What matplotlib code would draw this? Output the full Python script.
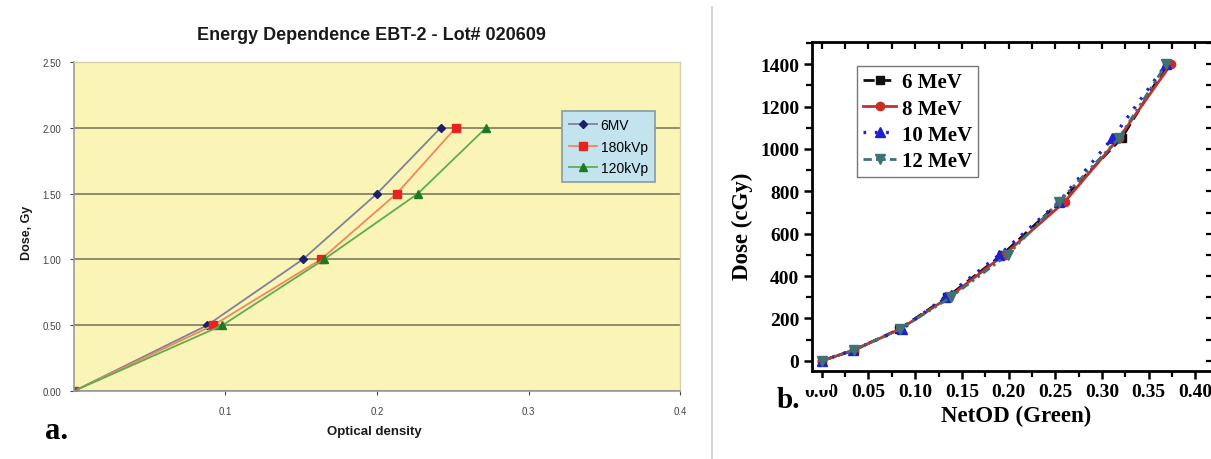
import numpy as np
import matplotlib
matplotlib.use("Agg")
import matplotlib.pyplot as plt
from matplotlib.patches import Rectangle
from matplotlib.lines import Line2D
from matplotlib.ticker import MultipleLocator

# ---- panel a: EBT-2 energy dependence (Excel style) ----
dose_a = [0.0, 0.5, 1.0, 1.5, 2.0]
od_6mv = [0.0, 0.088, 0.151, 0.200, 0.242]
od_180kvp = [0.0, 0.092, 0.163, 0.213, 0.252]
od_120kvp = [0.0, 0.098, 0.165, 0.227, 0.272]
labels_a = ["6MV", "180kVp", "120kVp"]

# ---- panel b: NetOD (green channel) for electron beams ----
dose_b = [0, 50, 150, 300, 500, 750, 1050, 1400]
netod_6mev = [0.0, 0.034, 0.083, 0.134, 0.193, 0.255, 0.321, 0.370]
netod_8mev = [0.0, 0.034, 0.084, 0.136, 0.195, 0.260, 0.318, 0.374]
netod_10mev = [0.0, 0.033, 0.086, 0.132, 0.190, 0.254, 0.311, 0.369]
netod_12mev = [0.0, 0.034, 0.084, 0.138, 0.199, 0.254, 0.318, 0.369]
labels_b = ["6 MeV", "8 MeV", "10 MeV", "12 MeV"]

W, H = 1211, 460
fig = plt.figure(figsize=(W / 100, H / 100), dpi=100)

def box(l, t, r, b):
    return [l / W, 1 - b / H, (r - l) / W, (b - t) / H]

sans = "Liberation Sans"
serif = "Liberation Serif"

# panel a
ax = fig.add_axes(box(74, 63, 680, 392))
ax.set_facecolor("#faf5b6")
ax.plot(od_6mv, dose_a, color="#80819a", lw=1.3, marker="D", ms=4.5,
        mfc="#1c1f6e", mec="#1c1f6e", label=labels_a[0])
ax.plot(od_180kvp, dose_a, color="#f2865e", lw=1.3, marker="s", ms=5.5,
        mfc="#e8231e", mec="#e8231e", label=labels_a[1])
ax.plot(od_120kvp, dose_a, color="#5cae4c", lw=1.3, marker="^", ms=5.5,
        mfc="#1d7a22", mec="#1d7a22", label=labels_a[2])
ax.set_xlim(0, 0.4)
ax.set_ylim(0, 2.5)
ax.set_xticks([0.1, 0.2, 0.3, 0.4])
ax.set_xticklabels(["0.1", "0.2", "0.3", "0.4"])
ax.set_yticks(np.arange(0, 2.51, 0.5))
ax.set_yticklabels(["%.2f" % v for v in np.arange(0, 2.51, 0.5)])
ax.yaxis.grid(True, color="#8e8c6e", lw=1.4)
ax.set_axisbelow(True)
for s in ["left", "bottom"]:
    ax.spines[s].set_color("#9a9a9a")
    ax.spines[s].set_linewidth(1.2)
for s in ["top", "right"]:
    ax.spines[s].set_color("#d4d0b0")
    ax.spines[s].set_linewidth(1.0)
ax.tick_params(labelsize=7, colors="#444444", length=3, width=0.8,
               pad=8)
for t in ax.get_xticklabels() + ax.get_yticklabels():
    t.set_family(sans)
ax.tick_params(axis="y", pad=6)
leg = ax.legend(loc="upper left", bbox_to_anchor=(0.805, 0.851),
                borderaxespad=0, fancybox=False, facecolor="#c3e3ef",
                edgecolor="#8a9aa0", framealpha=1, handlelength=2.0,
                handletextpad=0.3, labelspacing=0.55, borderpad=0.5,
                prop={"family": sans, "size": 10})
leg.get_frame().set_linewidth(1.2)

fig.text(371 / W, 1 - 36 / H, "Energy Dependence EBT-2 - Lot# 020609",
         family=sans, weight="bold", size=13, ha="center", va="center",
         color="#1a1a1a")
fig.text(27 / W, 1 - 233 / H, "Dose, Gy", family=sans, weight="bold",
         size=9, rotation=90, ha="center", va="center", color="#1a1a1a")
fig.text(374 / W, 1 - 432 / H, "Optical density", family=sans,
         weight="bold", size=9.5, ha="center", va="center", color="#1a1a1a")
fig.text(45 / W, 1 - 432 / H, "a.", family=serif, weight="bold", size=22,
         ha="left", va="center")

# divider between the two panels
fig.add_artist(Line2D([712.5 / W, 712.5 / W], [0, 1 - 8 / H],
                      color="#d6d6d6", lw=1.5))

# panel b
bx = fig.add_axes(box(812, 43, 1213, 372))
bx.plot(netod_6mev, dose_b, color="#111111", lw=2, ls=(0, (4, 2)),
        marker="s", ms=6, label=labels_b[0])
bx.plot(netod_8mev, dose_b, color="#c62d2b", lw=2, ls="-",
        marker="o", ms=6, label=labels_b[1])
bx.plot(netod_10mev, dose_b, color="#1f1fcf", lw=2.4, ls=(0, (0.8, 2.6)),
        marker="^", ms=7, label=labels_b[2])
bx.plot(netod_12mev, dose_b, color="#3f7272", lw=2, ls=(0, (3, 1.5, 1, 1.5, 1, 1.5)),
        marker="v", ms=7, label=labels_b[3])
bx.set_xlim(-0.0105, 0.419)
bx.set_ylim(-48, 1505)
bx.xaxis.set_major_locator(MultipleLocator(0.05))
bx.xaxis.set_minor_locator(MultipleLocator(0.025))
bx.yaxis.set_major_locator(MultipleLocator(200))
bx.yaxis.set_minor_locator(MultipleLocator(100))
bx.set_xticks(np.arange(0, 0.401, 0.05))
bx.set_xticklabels(["%.2f" % v for v in np.arange(0, 0.401, 0.05)])
for s in bx.spines.values():
    s.set_linewidth(2)
bx.tick_params(which="major", direction="out", length=6, width=1.8,
               labelsize=14, pad=3)
bx.tick_params(which="minor", direction="out", length=4, width=1.6)
for t in bx.get_xticklabels() + bx.get_yticklabels():
    t.set_family(serif)
    t.set_weight("bold")

# mirrored inward ticks on top and right
tx = bx.secondary_xaxis("top")
tx.xaxis.set_major_locator(MultipleLocator(0.05))
tx.xaxis.set_minor_locator(MultipleLocator(0.025))
tx.tick_params(which="both", direction="in", length=5, width=1.6,
               labeltop=False)
ty = bx.secondary_yaxis("right")
ty.yaxis.set_major_locator(MultipleLocator(200))
ty.yaxis.set_minor_locator(MultipleLocator(100))
ty.tick_params(which="both", direction="in", length=5, width=1.6,
               labelright=False)

lg = bx.legend(loc="upper left", bbox_to_anchor=(0.112, 0.927),
               borderaxespad=0, fancybox=False, edgecolor="#777777",
               framealpha=1, handlelength=1.6, handletextpad=0.25,
               labelspacing=0.3, borderpad=0.3,
               prop={"family": serif, "weight": "bold", "size": 15})
lg.get_frame().set_linewidth(1.0)

fig.text(742 / W, 1 - 226 / H, "Dose (cGy)", family=serif, weight="bold",
         size=16.5, rotation=90, ha="center", va="center")
fig.text(1016 / W, 1 - 416 / H, "NetOD (Green)", family=serif,
         weight="bold", size=16.5, ha="center", va="center")
fig.text(777 / W, 1 - 401 / H, "b.", family=serif, weight="bold", size=21,
         ha="left", va="center")

# white strip over the top of the first x label
fig.add_artist(Rectangle((788 / W, 1 - 391 / H), 43 / W, 12 / H,
                         transform=fig.transFigure, facecolor="white",
                         edgecolor="none", zorder=10))

fig.savefig("out.png", dpi=100)
